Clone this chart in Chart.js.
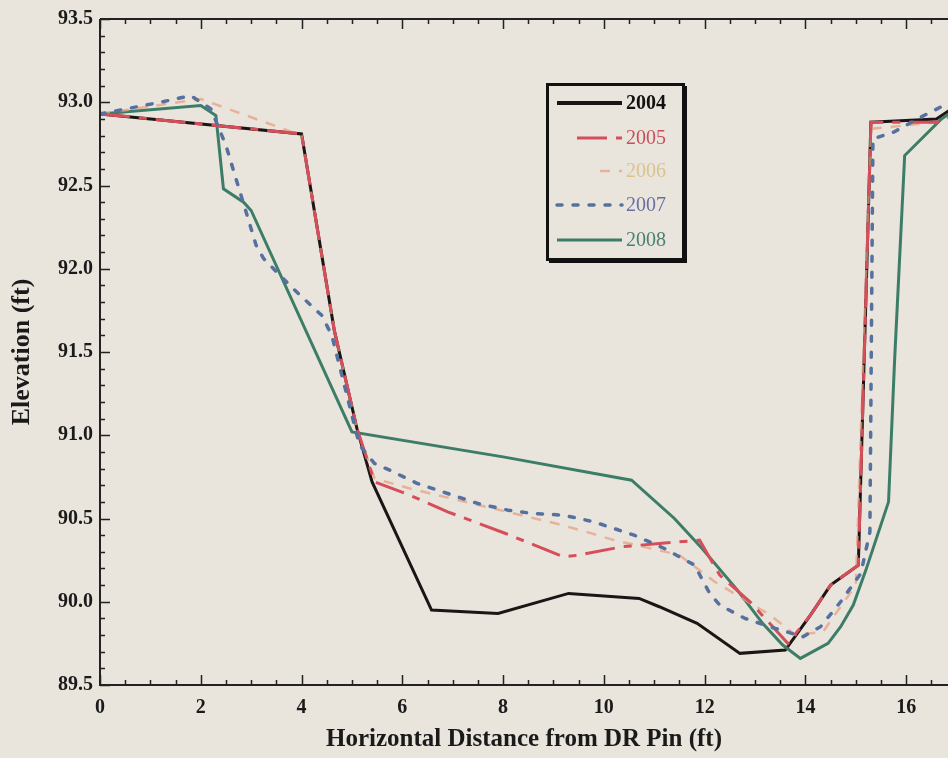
<!DOCTYPE html>
<html>
<head>
<meta charset="utf-8">
<script src="https://cdn.jsdelivr.net/npm/chart.js@4/dist/chart.umd.min.js"></script>
<style>
  html, body { margin: 0; padding: 0; background: #e9e5dd; }
  #wrap { width: 948px; height: 758px; position: relative; }
</style>
</head>
<body>
<div id="wrap"><canvas id="c" width="948" height="758"></canvas></div>
<script>
// ---------- data ----------
const SERIES_LABELS = ['2004', '2005', '2006', '2007', '2008'];

const x2004 = [0, 4.0, 4.65, 5.1, 5.4, 6.58, 7.9, 9.3, 10.7, 11.1, 11.85, 12.7, 13.6, 14.1, 14.5, 15.05, 15.3, 16.6, 17.2];
const y2004 = [92.93, 92.81, 91.63, 91.04, 90.72, 89.95, 89.93, 90.05, 90.02, 89.97, 89.87, 89.69, 89.71, 89.92, 90.1, 90.22, 92.88, 92.9, 93.02];

const x2005 = [0, 4.0, 4.65, 5.1, 5.45, 6.15, 6.9, 8.05, 9.2, 9.5, 10.35, 11.1, 11.9, 12.3, 12.9, 13.65, 14.1, 14.5, 15.05, 15.3, 16.6, 17.2];
const y2005 = [92.93, 92.81, 91.63, 91.04, 90.72, 90.64, 90.54, 90.41, 90.27, 90.28, 90.33, 90.35, 90.37, 90.16, 90.0, 89.75, 89.92, 90.1, 90.22, 92.88, 92.88, 92.95];

const x2006 = [0, 2.0, 4.0, 4.65, 5.1, 5.45, 6.15, 6.7, 9.05, 9.65, 10.2, 10.65, 11.5, 12.2, 13.3, 13.8, 14.35, 15.0, 15.3, 16.6, 17.2];
const y2006 = [92.93, 93.02, 92.8, 91.63, 91.04, 90.74, 90.68, 90.64, 90.47, 90.42, 90.37, 90.34, 90.28, 90.12, 89.92, 89.8, 89.82, 90.1, 92.84, 92.88, 92.95];

const x2007 = [0, 1.2, 1.8, 2.2, 2.5, 3.1, 3.25, 3.8, 4.4, 4.6, 5.15, 5.45, 5.75, 6.3, 6.9, 7.5, 8.1, 8.6, 9.2, 9.8, 10.6, 11.2, 11.8, 12.1, 12.3, 12.8, 13.4, 13.95, 14.3, 14.7, 15.1, 15.28, 15.34, 15.75, 16.35, 17.2];
const y2007 = [92.93, 93.0, 93.04, 92.96, 92.74, 92.14, 92.06, 91.89, 91.72, 91.6, 90.94, 90.83, 90.79, 90.71, 90.65, 90.59, 90.55, 90.53, 90.52, 90.48, 90.40, 90.32, 90.22, 90.05, 89.98, 89.9, 89.84, 89.79, 89.85, 90.0, 90.17, 90.42, 92.78, 92.82, 92.92, 93.05];

const x2008 = [0, 2.0, 2.3, 2.45, 2.85, 3.0, 5.0, 8.0, 10.55, 11.4, 11.95, 12.65, 13.15, 13.55, 13.9, 14.45, 14.7, 14.95, 15.2, 15.65, 15.77, 15.97, 16.7, 17.2];
const y2008 = [92.93, 92.98, 92.92, 92.48, 92.4, 92.35, 91.02, 90.87, 90.73, 90.5, 90.32, 90.07, 89.87, 89.74, 89.66, 89.75, 89.85, 89.98, 90.19, 90.6, 91.45, 92.68, 92.9, 93.0];

const X_TICKS = [0, 2, 4, 6, 8, 10, 12, 14, 16];
const Y_TICKS = [89.5, 90.0, 90.5, 91.0, 91.5, 92.0, 92.5, 93.0, 93.5];
const X_MINOR_STEP = 0.5;
const Y_MINOR_STEP = 0.1;
// ---------------------------------------------------

const pts = (xs, ys) => xs.map((x, i) => ({ x: x, y: ys[i] }));
const BG = '#e9e5dd';
const SERIF = "'Liberation Serif', 'DejaVu Serif', serif";

const frameTicks = {
  id: 'frameTicks',
  afterDatasetsDraw(chart) {
    const { ctx, chartArea: a, scales: { x, y } } = chart;
    ctx.save();
    ctx.strokeStyle = '#222';
    ctx.lineWidth = 2;
    ctx.beginPath();
    ctx.moveTo(a.left, a.top); ctx.lineTo(a.right, a.top);
    ctx.moveTo(a.left, a.top); ctx.lineTo(a.left, a.bottom); ctx.lineTo(a.right, a.bottom);
    ctx.stroke();
    ctx.lineWidth = 1.5;
    ctx.beginPath();
    const nY = Math.round((y.max - y.min) / Y_MINOR_STEP);
    for (let i = 0; i <= nY; i++) {
      const v = y.min + i * Y_MINOR_STEP;
      const p = Math.round(y.getPixelForValue(v)) + 0.5;
      const L = (i % 5 === 0) ? 10 : 5;
      ctx.moveTo(a.left, p); ctx.lineTo(a.left + L, p);
    }
    for (let i = 0; i * X_MINOR_STEP <= x.max; i++) {
      const v = i * X_MINOR_STEP;
      const p = Math.round(x.getPixelForValue(v)) + 0.5;
      const L = (i % 4 === 0) ? 10 : 5;
      ctx.moveTo(p, a.bottom); ctx.lineTo(p, a.bottom - L);
      ctx.moveTo(p, a.top); ctx.lineTo(p, a.top + L);
    }
    ctx.stroke();
    ctx.restore();
  }
};

const boxLegend = {
  id: 'boxLegend',
  afterDraw(chart) {
    const ctx = chart.ctx;
    const bx = 547.5, by = 84.5, bw = 136, bh = 175;
    ctx.save();
    ctx.fillStyle = '#111';
    ctx.fillRect(bx + 1.5, by + 1.5, bw + 2, bh + 2);
    ctx.fillStyle = BG;
    ctx.fillRect(bx, by, bw, bh);
    ctx.strokeStyle = '#111';
    ctx.lineWidth = 3;
    ctx.strokeRect(bx, by, bw, bh);
    const rows = [103, 138, 171, 205, 240];
    chart.data.datasets.forEach((ds, i) => {
      const yy = rows[i];
      ctx.save();
      ctx.strokeStyle = ds.borderColor;
      ctx.lineWidth = ds.legendWidth || ds.borderWidth;
      ctx.setLineDash(ds.borderDash || []);
      ctx.lineDashOffset = ds.legendDashOffset || 0;
      ctx.lineCap = ds.borderCapStyle || 'butt';
      ctx.beginPath();
      ctx.moveTo(ds.legendStart || 557, yy);
      ctx.lineTo(622, yy);
      ctx.stroke();
      ctx.restore();
      ctx.fillStyle = ds.legendColor;
      ctx.font = (i === 0 ? 'bold ' : '') + '20px ' + SERIF;
      ctx.textBaseline = 'middle';
      ctx.textAlign = 'left';
      ctx.fillText(ds.label, 626, yy + 1);
    });
    ctx.restore();
  }
};

const bgPlugin = {
  id: 'bg',
  beforeDraw(chart) {
    const ctx = chart.ctx;
    ctx.save();
    ctx.fillStyle = BG;
    ctx.fillRect(0, 0, chart.width, chart.height);
    ctx.restore();
  }
};

new Chart(document.getElementById('c').getContext('2d'), {
  type: 'line',
  data: {
    datasets: [
      { label: SERIES_LABELS[0], data: pts(x2004, y2004), borderColor: '#1c1515', borderWidth: 3, legendWidth: 4, order: 5, legendColor: '#111' },
      { label: SERIES_LABELS[1], data: pts(x2005, y2005), borderColor: '#d64e5a', borderWidth: 3, borderDash: [30, 9, 8, 9], legendDashOffset: 47, legendStart: 568, order: 2, legendColor: '#c8505c' },
      { label: SERIES_LABELS[2], data: pts(x2006, y2006), borderColor: 'rgba(232,160,128,0.75)', borderWidth: 2.5, borderDash: [10, 9], legendStart: 600, order: 3, legendColor: '#dcc28e' },
      { label: SERIES_LABELS[3], data: pts(x2007, y2007), borderColor: '#56719f', borderWidth: 3.5, borderDash: [5, 11], borderCapStyle: 'round', order: 1, legendColor: '#6a6fa2' },
      { label: SERIES_LABELS[4], data: pts(x2008, y2008), borderColor: '#3d7d68', borderWidth: 3, order: 4, legendColor: '#4a8070' }
    ]
  },
  options: {
    responsive: false,
    animation: false,
    events: [],
    elements: { point: { radius: 0 }, line: { tension: 0 } },
    layout: { padding: { top: 15, right: 0, left: 0, bottom: 0 } },
    plugins: { legend: { display: false }, tooltip: { enabled: false } },
    scales: {
      x: {
        type: 'linear',
        min: 0,
        max: 16.83,
        afterFit(s) { s.height = 73; },
        afterBuildTicks(s) { s.ticks = X_TICKS.map(v => ({ value: v })); },
        grid: { display: false, drawTicks: false },
        border: { display: false },
        ticks: {
          autoSkip: false, maxRotation: 0, padding: 11, color: '#1a1a1a',
          font: { family: SERIF, size: 20, weight: 'bold' },
          callback: v => String(v)
        },
        title: {
          display: true, text: 'Horizontal Distance from DR Pin (ft)', color: '#1a1a1a',
          font: { family: SERIF, size: 25, weight: 'bold' },
          padding: { top: 0, bottom: 3 }
        }
      },
      y: {
        type: 'linear',
        min: 89.5,
        max: 93.5,
        afterFit(s) { s.width = 100; },
        afterBuildTicks(s) { s.ticks = Y_TICKS.map(v => ({ value: v })); },
        grid: { display: false, drawTicks: false },
        border: { display: false },
        ticks: {
          autoSkip: false, padding: 7, color: '#1a1a1a',
          font: { family: SERIF, size: 20, weight: 'bold' },
          callback: v => Number(v).toFixed(1)
        },
        title: {
          display: true, text: 'Elevation (ft)', color: '#1a1a1a',
          font: { family: SERIF, size: 26, weight: 'bold' },
          padding: { top: 7, bottom: 0 }
        }
      }
    }
  },
  plugins: [bgPlugin, frameTicks, boxLegend]
});
</script>
</body>
</html>
